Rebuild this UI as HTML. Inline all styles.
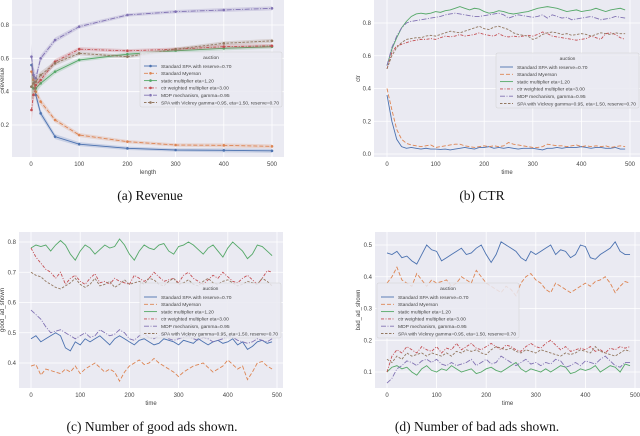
<!DOCTYPE html>
<html><head><meta charset="utf-8"><style>
body{margin:0;background:#fff;width:640px;height:436px;overflow:hidden}
svg{display:block}
.tk{font:6px "Liberation Sans",sans-serif;fill:#444}
.lgt{font:4.9px "Liberation Sans",sans-serif;fill:#444}
.cap{font:13.5px "Liberation Serif",serif;fill:#111}
</style></head><body>
<svg id="fig" width="640" height="436"></svg>
<script>
const seriesNames=["Standard SPA with reserve=0.70","Standard Myerson","static multiplier eta=1.20","ctr weighted multiplier eta=3.00","MDP mechanism, gamma=0.95","SPA with Vickrey gamma=0.95, eta=1.50, reserve=0.70"];
const colors=["#4c72b0","#dd8452","#55a868","#c44e52","#8172b3","#937860"];
const dashes=["","4,2","","3,1.5,1,1.5","5,1.5,1,1.5","2.5,1.5"];
const xTicks=[0,100,200,300,400,500];
const revLength=[1,5,10,20,50,100,200,300,400,500];
const revSPA=[0.56,0.50,0.38,0.27,0.13,0.085,0.06,0.05,0.048,0.045];
const revMyerson=[0.52,0.47,0.40,0.34,0.23,0.14,0.10,0.08,0.078,0.072];
const revStatic=[0.43,0.42,0.42,0.45,0.52,0.59,0.625,0.645,0.66,0.67];
const revCtr=[0.29,0.38,0.44,0.47,0.58,0.655,0.645,0.655,0.67,0.675];
const revMDP=[0.61,0.50,0.48,0.60,0.71,0.79,0.86,0.88,0.89,0.90];
const revVickrey=[0.43,0.45,0.46,0.50,0.57,0.63,0.61,0.655,0.69,0.705];
const revCI=[0.08,0.05,0.03,0.02,0.015,0.012,0.01,0.01,0.012,0.012];
const ctrSPA=[0.36,0.20,0.09,0.045,0.035,0.04,0.035,0.03,0.035,0.03,0.03,0.028,0.03,0.025,0.03,0.035,0.04,0.035,0.03,0.04,0.04,0.045,0.035,0.04,0.035,0.04,0.035,0.03,0.035,0.035,0.035,0.03,0.025,0.035,0.035,0.04,0.035,0.04,0.04,0.04,0.045,0.04,0.035,0.04,0.04,0.035,0.035,0.04,0.03,0.03];
const ctrMyerson=[0.40,0.27,0.15,0.09,0.065,0.055,0.05,0.045,0.05,0.055,0.04,0.045,0.05,0.055,0.06,0.06,0.05,0.045,0.04,0.045,0.05,0.045,0.05,0.045,0.05,0.07,0.06,0.055,0.05,0.045,0.04,0.04,0.045,0.06,0.055,0.05,0.05,0.045,0.05,0.055,0.045,0.05,0.045,0.05,0.045,0.05,0.04,0.045,0.05,0.045];
const ctrStatic=[0.54,0.64,0.71,0.77,0.81,0.84,0.855,0.86,0.855,0.86,0.87,0.865,0.875,0.88,0.89,0.9,0.89,0.88,0.89,0.885,0.87,0.86,0.865,0.875,0.87,0.86,0.855,0.86,0.865,0.87,0.88,0.89,0.895,0.9,0.895,0.89,0.88,0.87,0.875,0.88,0.87,0.875,0.88,0.89,0.88,0.87,0.88,0.885,0.89,0.88];
const ctrCtr=[0.52,0.62,0.66,0.67,0.68,0.69,0.695,0.70,0.70,0.705,0.70,0.71,0.72,0.715,0.72,0.73,0.72,0.725,0.73,0.74,0.73,0.725,0.72,0.735,0.72,0.715,0.72,0.715,0.72,0.725,0.72,0.73,0.745,0.735,0.72,0.715,0.71,0.705,0.70,0.695,0.70,0.705,0.72,0.71,0.70,0.735,0.74,0.73,0.71,0.70];
const ctrMDP=[0.54,0.65,0.72,0.77,0.80,0.81,0.815,0.82,0.825,0.83,0.835,0.84,0.85,0.855,0.86,0.855,0.85,0.845,0.84,0.84,0.845,0.85,0.855,0.86,0.85,0.83,0.84,0.85,0.845,0.84,0.835,0.84,0.85,0.83,0.85,0.84,0.83,0.835,0.82,0.825,0.83,0.835,0.84,0.83,0.82,0.825,0.83,0.84,0.835,0.83];
const ctrVickrey=[0.52,0.60,0.65,0.68,0.70,0.705,0.71,0.71,0.72,0.725,0.72,0.73,0.74,0.75,0.745,0.74,0.75,0.76,0.77,0.78,0.765,0.76,0.775,0.78,0.77,0.76,0.74,0.73,0.725,0.72,0.70,0.71,0.73,0.74,0.745,0.74,0.73,0.735,0.725,0.73,0.735,0.73,0.72,0.73,0.74,0.735,0.73,0.74,0.735,0.735];
const goodSPA=[0.48,0.49,0.47,0.48,0.49,0.50,0.49,0.45,0.44,0.47,0.46,0.48,0.47,0.48,0.49,0.475,0.46,0.48,0.49,0.48,0.47,0.46,0.475,0.48,0.47,0.46,0.465,0.48,0.475,0.47,0.46,0.475,0.47,0.465,0.48,0.47,0.46,0.47,0.475,0.465,0.47,0.48,0.46,0.47,0.445,0.455,0.47,0.475,0.465,0.47];
const goodMyerson=[0.39,0.395,0.36,0.38,0.375,0.37,0.365,0.38,0.37,0.39,0.365,0.38,0.39,0.40,0.385,0.37,0.38,0.37,0.34,0.37,0.39,0.40,0.41,0.395,0.40,0.415,0.40,0.39,0.38,0.37,0.355,0.37,0.38,0.39,0.395,0.40,0.385,0.37,0.38,0.39,0.41,0.395,0.38,0.39,0.345,0.37,0.40,0.405,0.39,0.38];
const goodStatic=[0.78,0.79,0.785,0.79,0.77,0.79,0.805,0.79,0.76,0.74,0.77,0.79,0.78,0.76,0.775,0.79,0.78,0.785,0.81,0.79,0.76,0.74,0.77,0.79,0.78,0.775,0.79,0.795,0.77,0.76,0.785,0.79,0.80,0.79,0.775,0.76,0.78,0.79,0.77,0.75,0.78,0.80,0.785,0.77,0.745,0.76,0.79,0.785,0.77,0.755];
const goodCtr=[0.78,0.75,0.73,0.71,0.70,0.68,0.70,0.66,0.68,0.69,0.67,0.66,0.68,0.695,0.665,0.67,0.66,0.68,0.67,0.665,0.66,0.69,0.68,0.67,0.68,0.70,0.685,0.67,0.675,0.68,0.665,0.69,0.70,0.68,0.67,0.66,0.675,0.69,0.68,0.70,0.685,0.67,0.665,0.68,0.69,0.675,0.66,0.68,0.705,0.70];
const goodMDP=[0.575,0.56,0.545,0.52,0.50,0.505,0.51,0.50,0.49,0.48,0.49,0.50,0.485,0.49,0.51,0.50,0.49,0.495,0.51,0.50,0.48,0.475,0.49,0.495,0.485,0.48,0.49,0.495,0.48,0.475,0.48,0.485,0.49,0.48,0.475,0.485,0.48,0.47,0.475,0.48,0.49,0.485,0.475,0.47,0.465,0.47,0.48,0.475,0.47,0.48];
const goodVickrey=[0.70,0.69,0.685,0.67,0.66,0.65,0.645,0.655,0.665,0.68,0.66,0.65,0.66,0.68,0.655,0.66,0.67,0.65,0.66,0.675,0.66,0.665,0.67,0.66,0.68,0.675,0.66,0.655,0.67,0.68,0.66,0.665,0.675,0.66,0.655,0.67,0.68,0.665,0.66,0.67,0.675,0.665,0.655,0.66,0.67,0.665,0.66,0.68,0.67,0.655];
const badSPA=[0.475,0.47,0.48,0.46,0.465,0.45,0.44,0.47,0.50,0.485,0.48,0.45,0.46,0.47,0.48,0.49,0.47,0.475,0.49,0.50,0.47,0.445,0.47,0.51,0.50,0.49,0.48,0.46,0.45,0.48,0.47,0.48,0.49,0.50,0.47,0.485,0.48,0.46,0.47,0.50,0.495,0.46,0.455,0.47,0.48,0.49,0.51,0.48,0.47,0.47];
const badMyerson=[0.38,0.40,0.43,0.39,0.38,0.37,0.41,0.39,0.37,0.39,0.38,0.385,0.39,0.37,0.38,0.40,0.39,0.38,0.42,0.40,0.38,0.37,0.36,0.35,0.37,0.36,0.34,0.38,0.40,0.41,0.39,0.38,0.36,0.35,0.38,0.37,0.36,0.35,0.36,0.37,0.38,0.37,0.385,0.39,0.40,0.38,0.35,0.37,0.385,0.38];
const badStatic=[0.10,0.115,0.12,0.11,0.115,0.10,0.09,0.11,0.12,0.105,0.10,0.11,0.105,0.12,0.11,0.10,0.105,0.11,0.095,0.10,0.11,0.115,0.105,0.10,0.11,0.12,0.13,0.11,0.10,0.11,0.105,0.10,0.11,0.10,0.11,0.12,0.115,0.095,0.10,0.11,0.105,0.11,0.12,0.10,0.11,0.12,0.115,0.10,0.125,0.12];
const badCtr=[0.10,0.15,0.17,0.16,0.18,0.17,0.16,0.18,0.17,0.165,0.18,0.16,0.175,0.17,0.19,0.17,0.18,0.19,0.175,0.17,0.18,0.19,0.18,0.17,0.185,0.18,0.17,0.165,0.18,0.19,0.18,0.175,0.19,0.20,0.185,0.17,0.18,0.165,0.17,0.175,0.17,0.18,0.165,0.17,0.16,0.175,0.17,0.18,0.175,0.18];
const badMDP=[0.065,0.08,0.11,0.12,0.135,0.13,0.12,0.135,0.14,0.13,0.14,0.125,0.12,0.13,0.12,0.125,0.13,0.14,0.12,0.13,0.14,0.125,0.13,0.15,0.14,0.13,0.12,0.13,0.14,0.125,0.13,0.12,0.13,0.125,0.14,0.135,0.115,0.12,0.13,0.12,0.135,0.13,0.125,0.14,0.15,0.135,0.12,0.115,0.13,0.13];
const badVickrey=[0.14,0.13,0.15,0.14,0.16,0.15,0.155,0.16,0.15,0.16,0.155,0.15,0.16,0.15,0.165,0.16,0.17,0.165,0.17,0.16,0.155,0.17,0.18,0.175,0.17,0.175,0.165,0.16,0.17,0.165,0.16,0.17,0.165,0.16,0.155,0.15,0.16,0.155,0.16,0.17,0.165,0.16,0.18,0.165,0.16,0.155,0.15,0.16,0.17,0.165];
const timeSteps=ctrSPA.map((_,i)=>i*10);

const NS="http://www.w3.org/2000/svg";
const svg=document.getElementById('fig');
function mk(tag,attrs,parent){const e=document.createElementNS(NS,tag);for(const k in attrs)e.setAttribute(k,attrs[k]);(parent||svg).appendChild(e);return e;}

function panel(o){
  const g=mk('g',{});
  
  
  const sx=v=>o.x0+(v-0)*(o.x500-o.x0)/500;
  const sy=v=>o.yA+(v-o.vA)*(o.yB-o.yA)/(o.vB-o.vA);
  const bg=mk('rect',{x:o.L,y:o.T,width:o.R-o.L,height:o.B-o.T,fill:'#eaeaf2'},g);
  
  
  o.yTicks.forEach(v=>{mk('line',{x1:o.L,x2:o.R,y1:sy(v),y2:sy(v),stroke:'#fff','stroke-width':0.8},g);
    const t=mk('text',{x:o.L-3,y:sy(v)+2,'text-anchor':'end',class:'tk'},g);t.textContent=v.toFixed(1);
    });
  xTicks.forEach(v=>{mk('line',{x1:sx(v),x2:sx(v),y1:o.T,y2:o.B,stroke:'#fff','stroke-width':0.8},g);
    const t=mk('text',{x:sx(v),y:o.B+9,'text-anchor':'middle',class:'tk'},g);t.textContent=v;
    });
  o.series.forEach((s,i)=>{
    if(o.ci){let up=o.xs.map((x,j)=>sx(x)+','+sy(s[j]+o.ci[j])).join(' ');
      let dn=o.xs.map((x,j)=>sx(x)+','+sy(s[j]-o.ci[j])).reverse().join(' ');
      const b=mk('polygon',{points:up+' '+dn,fill:colors[i],opacity:0.22},g);
      }
    const p=mk('polyline',{points:o.xs.map((x,j)=>sx(x)+','+sy(s[j])).join(' '),fill:'none',stroke:colors[i],'stroke-width':o.sw||0.9,'stroke-dasharray':dashes[i]},g);
    
    
    if(o.markers)o.xs.forEach((x,j)=>{const c=mk('circle',{cx:sx(x),cy:sy(s[j]),r:1.3,fill:colors[i]},g);
      });
  });
  const xl=mk('text',{x:(o.L+o.R)/2,y:o.B+17,'text-anchor':'middle',class:'tk'},g);xl.textContent=o.xlabel;
  
  const yl=mk('text',{x:0,y:0,'text-anchor':'middle',class:'tk',transform:`translate(${o.ylx},${(o.T+o.B)/2}) rotate(-90)`},g);yl.textContent=o.ylabel;
  
  const lg=mk('g',{},g);
  
  
  mk('rect',{x:o.lx,y:o.ly,width:o.lw,height:55,fill:'#eaeaf2',stroke:'#ccc','stroke-width':0.5,rx:1.5,opacity:0.85},lg);
  const tt=mk('text',{x:o.lx+o.lw/2,y:o.ly+7,'text-anchor':'middle',class:'lgt'},lg);tt.textContent='auction';
  seriesNames.forEach((n,i)=>{const yy=o.ly+14+i*7.3;
    mk('line',{x1:o.lx+4,x2:o.lx+17,y1:yy,y2:yy,stroke:colors[i],'stroke-width':0.9,'stroke-dasharray':dashes[i]},lg);
    if(o.markers)mk('circle',{cx:o.lx+10.5,cy:yy,r:1.3,fill:colors[i]},lg);
    const t=mk('text',{x:o.lx+21,y:yy+1.8,class:'lgt'},lg);t.textContent=n;
    if(i===5){t.setAttribute('textLength',o.lw-24);t.setAttribute('lengthAdjust','spacingAndGlyphs');}
    });
  const cp=mk('text',{x:o.capx,y:o.capy,'text-anchor':'middle',class:'cap'},g);cp.textContent=o.caption;
  
}
panel({id:'revenue-panel',L:12,R:284,T:0,B:157,x0:31,x500:272,yA:25,vA:0.8,yB:125,vB:0.2,yTicks:[0.2,0.4,0.6,0.8],
  xs:revLength,series:[revSPA,revMyerson,revStatic,revCtr,revMDP,revVickrey],ci:revCI,markers:true,
  xlabel:'length',ylabel:'revenue',ylx:4,lx:140,ly:52,lw:142,caption:'(a) Revenue',capx:150,capy:200});
panel({id:'ctr-panel',L:374,R:640,T:0,B:157,x0:387,x500:630,yA:23,vA:0.8,yB:154,vB:0.0,yTicks:[0,0.2,0.4,0.6,0.8],
  xs:timeSteps,series:[ctrSPA,ctrMyerson,ctrStatic,ctrCtr,ctrMDP,ctrVickrey],
  xlabel:'time',ylabel:'ctr',ylx:360,lx:496,ly:53,lw:143,caption:'(b) CTR',capx:482,capy:200});
panel({id:'good-ads-panel',L:19,R:283,T:232,B:388,x0:31,x500:277,yA:242,vA:0.8,yB:363,vB:0.4,yTicks:[0.4,0.5,0.6,0.7,0.8],
  xs:timeSteps,series:[goodSPA,goodMyerson,goodStatic,goodCtr,goodMDP,goodVickrey],
  xlabel:'time',ylabel:'good_ad_shown',ylx:4,lx:140,ly:283,lw:141,caption:'(c) Number of good ads shown.',capx:152,capy:431});
panel({id:'bad-ads-panel',L:375,R:640,T:232,B:388,x0:387,x500:635,yA:245,vA:0.5,yB:372,vB:0.1,yTicks:[0.1,0.2,0.3,0.4,0.5],
  xs:timeSteps,series:[badSPA,badMyerson,badStatic,badCtr,badMDP,badVickrey],
  xlabel:'time',ylabel:'bad_ad_shown',ylx:360,lx:377,ly:283,lw:142,caption:'(d) Number of bad ads shown.',capx:477,capy:431});
</script>
</body></html>
